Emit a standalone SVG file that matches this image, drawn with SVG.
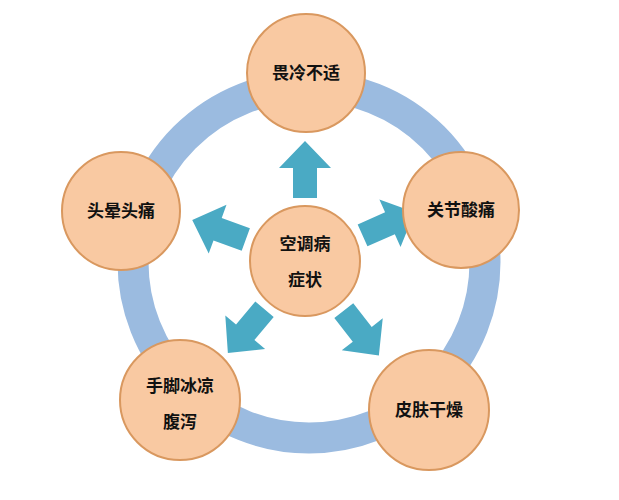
<svg xmlns="http://www.w3.org/2000/svg" width="619" height="500" viewBox="0 0 619 500">
<defs>
<style>
.n{fill:#F9C9A2;stroke:#D9985F;stroke-width:2}
.t{font-family:"Noto Sans CJK SC",sans-serif;font-weight:bold;font-size:17px;fill:#111;text-anchor:middle}
.a{fill:#4AAAC4}
</style>
<path id="arr" d="M63,-12 L93,-12 L93,-26 L120,0 L93,26 L93,12 L63,12 Z"/>
</defs>
<rect width="619" height="500" fill="#fff"/>
<circle cx="309" cy="262" r="176" fill="none" stroke="#9BBBE0" stroke-width="31"/>
<g id="connectors" class="a">
<use href="#arr" transform="translate(305,261) rotate(-90)"/>
<use href="#arr" transform="translate(305,261) rotate(-24)"/>
<use href="#arr" transform="translate(305,261) rotate(52)"/>
<use href="#arr" transform="translate(305,261) rotate(130)"/>
<use href="#arr" transform="translate(305,261) rotate(200)"/>
</g>
<g id="center"><circle class="n" cx="305" cy="261" r="55"/><text class="t" x="305" y="250">空调病</text><text class="t" x="305" y="286">症状</text></g>
<g id="top"><circle class="n" cx="306" cy="73" r="59"/><text class="t" x="306" y="79">畏冷不适</text></g>
<g id="right"><circle class="n" cx="461" cy="210" r="58"/><text class="t" x="461" y="216">关节酸痛</text></g>
<g id="bottomright"><circle class="n" cx="429" cy="410" r="60"/><text class="t" x="429" y="416">皮肤干燥</text></g>
<g id="bottomleft"><circle class="n" cx="180" cy="400" r="60"/><text class="t" x="180" y="392">手脚冰凉</text><text class="t" x="180" y="428">腹泻</text></g>
<g id="left"><circle class="n" cx="121" cy="211" r="59"/><text class="t" x="121" y="217">头晕头痛</text></g>
</svg>
